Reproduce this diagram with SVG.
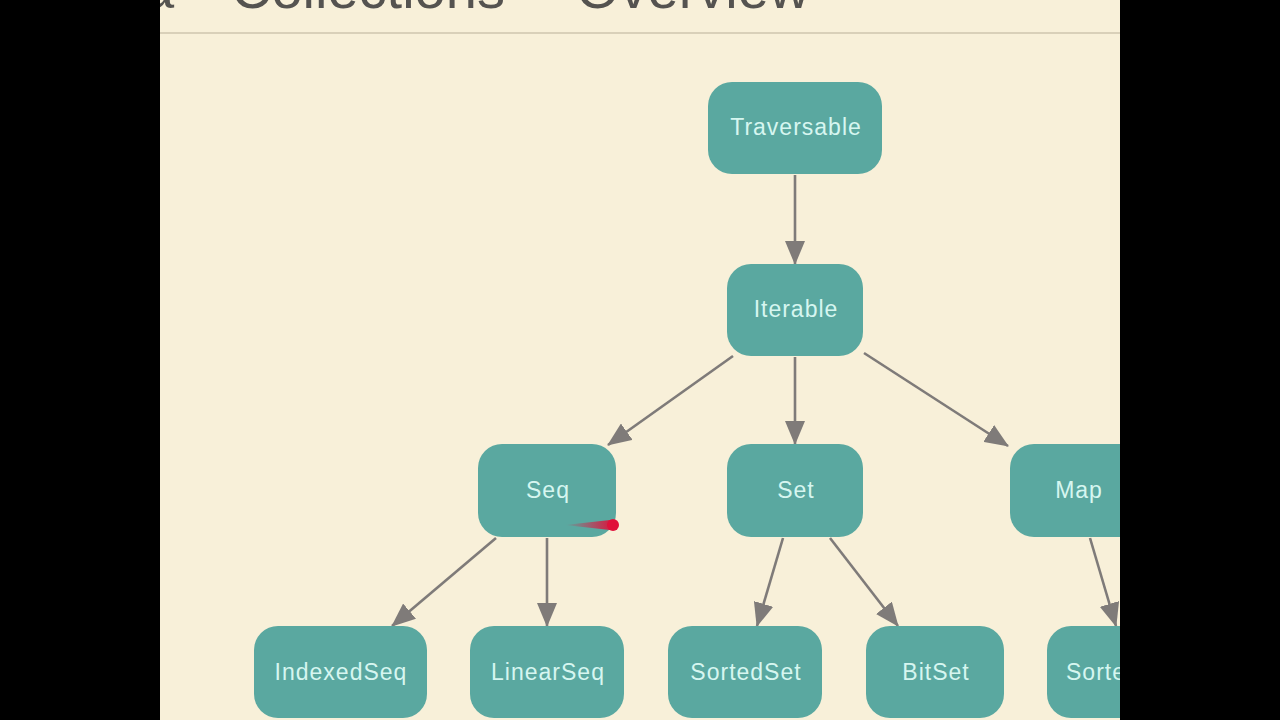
<svg xmlns="http://www.w3.org/2000/svg" width="1280" height="720" viewBox="0 0 1280 720">
<defs>
<style>
.node rect{fill:#5aa8a0;}
.node text{fill:#d6f6f0;font-family:"Liberation Sans",Arial,sans-serif;font-size:23px;letter-spacing:1px;text-anchor:middle;dominant-baseline:central;}
.edge{stroke:#7f7b79;stroke-width:2.6;fill:none;marker-end:url(#arr);}
.title{fill:#555350;font-family:"Liberation Sans",Arial,sans-serif;font-size:56px;}
</style>
<marker id="arr" markerUnits="userSpaceOnUse" markerWidth="24" markerHeight="20" viewBox="0 0 24 20" refX="23" refY="10" orient="auto">
<path d="M0,0 L24,10 L0,20 Z" fill="#7f7b79"/>
</marker>
<linearGradient id="trail" x1="0" x2="1" y1="0" y2="0">
<stop offset="0" stop-color="#e0103a" stop-opacity="0"/>
<stop offset="1" stop-color="#e0103a" stop-opacity="0.9"/>
</linearGradient>
</defs>
<rect width="1280" height="720" fill="#f8f0d9"/>
<text class="title" x="143" y="8">a</text>
<text class="title" x="231" y="8">Collections</text>
<text class="title" x="522" y="8">–</text>
<text class="title" x="576" y="8">Overview</text>
<line x1="160" y1="33" x2="1120" y2="33" stroke="#d9d0b9" stroke-width="2"/>
<g id="connectors">
<line class="edge" x1="795" y1="175" x2="795" y2="264"/>
<line class="edge" x1="733" y1="356" x2="608" y2="445"/>
<line class="edge" x1="795" y1="357" x2="795" y2="444"/>
<line class="edge" x1="864" y1="353" x2="1008" y2="446"/>
<line class="edge" x1="496" y1="538" x2="392" y2="626"/>
<line class="edge" x1="547" y1="538" x2="547" y2="626"/>
<line class="edge" x1="783" y1="538" x2="757" y2="626"/>
<line class="edge" x1="830" y1="538" x2="898" y2="626"/>
<line class="edge" x1="1090" y1="538" x2="1116" y2="626"/>
</g>
<g id="Traversable" class="node"><rect x="708" y="82" width="174" height="92" rx="24"/><text x="796" y="127">Traversable</text></g>
<g id="Iterable" class="node"><rect x="727" y="264" width="136" height="92" rx="24"/><text x="796" y="309">Iterable</text></g>
<g id="Seq" class="node"><rect x="478" y="444" width="138" height="93" rx="24"/><text x="548" y="490">Seq</text></g>
<g id="Set" class="node"><rect x="727" y="444" width="136" height="93" rx="24"/><text x="796" y="490">Set</text></g>
<g id="Map" class="node"><rect x="1010" y="444" width="136" height="93" rx="24"/><text x="1079" y="490">Map</text></g>
<g id="IndexedSeq" class="node"><rect x="254" y="626" width="173" height="92" rx="24"/><text x="341" y="672">IndexedSeq</text></g>
<g id="LinearSeq" class="node"><rect x="470" y="626" width="154" height="92" rx="24"/><text x="548" y="672">LinearSeq</text></g>
<g id="SortedSet" class="node"><rect x="668" y="626" width="154" height="92" rx="24"/><text x="746" y="672">SortedSet</text></g>
<g id="BitSet" class="node"><rect x="866" y="626" width="138" height="92" rx="24"/><text x="936" y="672">BitSet</text></g>
<g id="SortedMap" class="node"><rect x="1047" y="626" width="170" height="92" rx="24"/><text x="1066" y="672" style="text-anchor:start">SortedMap</text></g>
<g id="laser">
<path d="M565,525 L610,520 L610,530 Z" fill="url(#trail)"/>
<circle cx="613" cy="525" r="6" fill="#e0103a"/>
</g>
<rect x="0" y="0" width="160" height="720" fill="#000"/>
<rect x="1120" y="0" width="160" height="720" fill="#000"/>
</svg>
